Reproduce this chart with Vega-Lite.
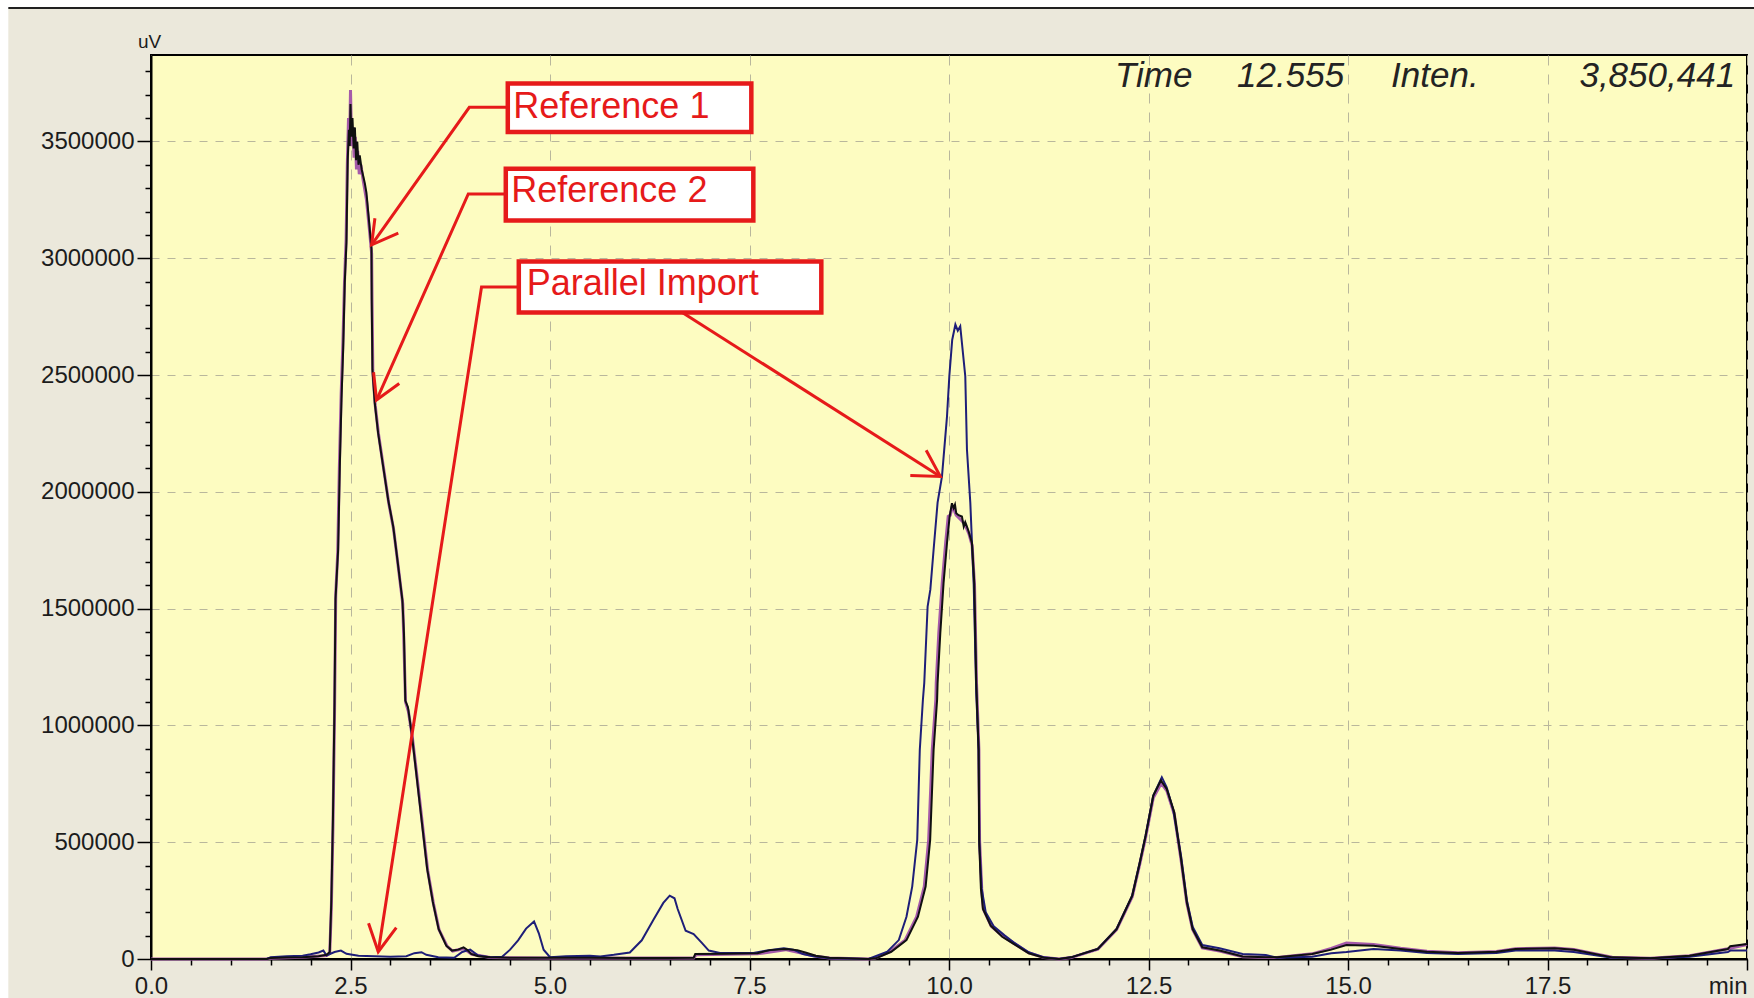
{
  "$schema": "https://vega.github.io/schema/vega-lite/v6.json",
  "width": 1596,
  "height": 904,
  "autosize": {"type": "none"},
  "padding": {"left": 151, "top": 55, "right": 7, "bottom": 39},
  "background": "#EBE8DB",
  "config": {
    "view": {"fill": "#FDFCC1", "stroke": "#000000", "strokeWidth": 2},
    "font": "Liberation Sans",
    "axis": {
      "labelFont": "Liberation Sans",
      "labelColor": "#1c1c1c",
      "domainColor": "#000000",
      "tickColor": "#000000",
      "titleFont": "Liberation Sans",
      "titleColor": "#1c1c1c"
    }
  },
  "resolve": {"axis": {"x": "independent", "y": "independent"}},
  "datasets": {
    "traces": [
      {"s": "Reference 1", "t": 0, "v": 0}, {"s": "Reference 1", "t": 1.45, "v": 0}, {"s": "Reference 1", "t": 1.5, "v": 4000},
      {"s": "Reference 1", "t": 1.7, "v": 6000}, {"s": "Reference 1", "t": 1.9, "v": 8000}, {"s": "Reference 1", "t": 2.0, "v": 10000},
      {"s": "Reference 1", "t": 2.1, "v": 12000}, {"s": "Reference 1", "t": 2.2, "v": 18000}, {"s": "Reference 1", "t": 2.24, "v": 30000},
      {"s": "Reference 1", "t": 2.26, "v": 250000}, {"s": "Reference 1", "t": 2.28, "v": 600000}, {"s": "Reference 1", "t": 2.3, "v": 1100000},
      {"s": "Reference 1", "t": 2.312, "v": 1540000}, {"s": "Reference 1", "t": 2.345, "v": 1752000}, {"s": "Reference 1", "t": 2.366, "v": 2109000},
      {"s": "Reference 1", "t": 2.387, "v": 2395000}, {"s": "Reference 1", "t": 2.408, "v": 2609000}, {"s": "Reference 1", "t": 2.428, "v": 2895000},
      {"s": "Reference 1", "t": 2.449, "v": 3066000}, {"s": "Reference 1", "t": 2.465, "v": 3420000}, {"s": "Reference 1", "t": 2.48, "v": 3550000},
      {"s": "Reference 1", "t": 2.49, "v": 3480000}, {"s": "Reference 1", "t": 2.5, "v": 3660000}, {"s": "Reference 1", "t": 2.51, "v": 3520000},
      {"s": "Reference 1", "t": 2.525, "v": 3600000}, {"s": "Reference 1", "t": 2.54, "v": 3470000}, {"s": "Reference 1", "t": 2.555, "v": 3560000},
      {"s": "Reference 1", "t": 2.57, "v": 3420000}, {"s": "Reference 1", "t": 2.585, "v": 3500000}, {"s": "Reference 1", "t": 2.6, "v": 3400000},
      {"s": "Reference 1", "t": 2.616, "v": 3440000}, {"s": "Reference 1", "t": 2.64, "v": 3380000}, {"s": "Reference 1", "t": 2.659, "v": 3352000},
      {"s": "Reference 1", "t": 2.68, "v": 3320000}, {"s": "Reference 1", "t": 2.7, "v": 3280000}, {"s": "Reference 1", "t": 2.734, "v": 3152000},
      {"s": "Reference 1", "t": 2.763, "v": 3040000}, {"s": "Reference 1", "t": 2.766, "v": 2823000}, {"s": "Reference 1", "t": 2.775, "v": 2523000},
      {"s": "Reference 1", "t": 2.804, "v": 2381000}, {"s": "Reference 1", "t": 2.846, "v": 2252000}, {"s": "Reference 1", "t": 2.909, "v": 2109000},
      {"s": "Reference 1", "t": 2.972, "v": 1966000}, {"s": "Reference 1", "t": 3.035, "v": 1852000}, {"s": "Reference 1", "t": 3.072, "v": 1752000},
      {"s": "Reference 1", "t": 3.15, "v": 1537000}, {"s": "Reference 1", "t": 3.17, "v": 1394000}, {"s": "Reference 1", "t": 3.187, "v": 1106000},
      {"s": "Reference 1", "t": 3.22, "v": 1078000}, {"s": "Reference 1", "t": 3.268, "v": 963000}, {"s": "Reference 1", "t": 3.316, "v": 819000},
      {"s": "Reference 1", "t": 3.364, "v": 675000}, {"s": "Reference 1", "t": 3.412, "v": 532000}, {"s": "Reference 1", "t": 3.46, "v": 388000},
      {"s": "Reference 1", "t": 3.532, "v": 244000}, {"s": "Reference 1", "t": 3.604, "v": 129000}, {"s": "Reference 1", "t": 3.7, "v": 57000},
      {"s": "Reference 1", "t": 3.772, "v": 36000}, {"s": "Reference 1", "t": 3.85, "v": 40000}, {"s": "Reference 1", "t": 3.916, "v": 50000},
      {"s": "Reference 1", "t": 3.96, "v": 40000}, {"s": "Reference 1", "t": 4.012, "v": 22000}, {"s": "Reference 1", "t": 4.1, "v": 12000},
      {"s": "Reference 1", "t": 4.25, "v": 7000}, {"s": "Reference 1", "t": 4.5, "v": 5000}, {"s": "Reference 1", "t": 5.0, "v": 5000},
      {"s": "Reference 1", "t": 5.5, "v": 5000}, {"s": "Reference 1", "t": 6.0, "v": 4000}, {"s": "Reference 1", "t": 6.5, "v": 4000},
      {"s": "Reference 1", "t": 6.8, "v": 5000}, {"s": "Reference 1", "t": 6.82, "v": 21000}, {"s": "Reference 1", "t": 7.2, "v": 22000},
      {"s": "Reference 1", "t": 7.6, "v": 25000}, {"s": "Reference 1", "t": 7.75, "v": 38000}, {"s": "Reference 1", "t": 7.95, "v": 43000},
      {"s": "Reference 1", "t": 8.1, "v": 38000}, {"s": "Reference 1", "t": 8.2, "v": 28000}, {"s": "Reference 1", "t": 8.33, "v": 14000},
      {"s": "Reference 1", "t": 8.5, "v": 5000}, {"s": "Reference 1", "t": 8.99, "v": 0}, {"s": "Reference 1", "t": 9.083, "v": 3000},
      {"s": "Reference 1", "t": 9.276, "v": 31000}, {"s": "Reference 1", "t": 9.467, "v": 81000}, {"s": "Reference 1", "t": 9.611, "v": 181000},
      {"s": "Reference 1", "t": 9.707, "v": 310000}, {"s": "Reference 1", "t": 9.764, "v": 510000}, {"s": "Reference 1", "t": 9.807, "v": 895000},
      {"s": "Reference 1", "t": 9.851, "v": 1110000}, {"s": "Reference 1", "t": 9.857, "v": 1181000}, {"s": "Reference 1", "t": 9.891, "v": 1395000},
      {"s": "Reference 1", "t": 9.932, "v": 1610000}, {"s": "Reference 1", "t": 9.975, "v": 1781000}, {"s": "Reference 1", "t": 10.008, "v": 1895000},
      {"s": "Reference 1", "t": 10.037, "v": 1951000}, {"s": "Reference 1", "t": 10.058, "v": 1930000}, {"s": "Reference 1", "t": 10.075, "v": 1945000},
      {"s": "Reference 1", "t": 10.091, "v": 1908000}, {"s": "Reference 1", "t": 10.12, "v": 1900000}, {"s": "Reference 1", "t": 10.162, "v": 1894000},
      {"s": "Reference 1", "t": 10.185, "v": 1851000}, {"s": "Reference 1", "t": 10.204, "v": 1870000}, {"s": "Reference 1", "t": 10.225, "v": 1851000},
      {"s": "Reference 1", "t": 10.246, "v": 1830000}, {"s": "Reference 1", "t": 10.288, "v": 1780000}, {"s": "Reference 1", "t": 10.317, "v": 1609000},
      {"s": "Reference 1", "t": 10.342, "v": 1180000}, {"s": "Reference 1", "t": 10.371, "v": 895000}, {"s": "Reference 1", "t": 10.379, "v": 500000},
      {"s": "Reference 1", "t": 10.4, "v": 300000}, {"s": "Reference 1", "t": 10.426, "v": 214000}, {"s": "Reference 1", "t": 10.523, "v": 143000},
      {"s": "Reference 1", "t": 10.667, "v": 95000}, {"s": "Reference 1", "t": 10.81, "v": 65000}, {"s": "Reference 1", "t": 11.0, "v": 24000},
      {"s": "Reference 1", "t": 11.19, "v": 5000}, {"s": "Reference 1", "t": 11.38, "v": 0}, {"s": "Reference 1", "t": 11.53, "v": 7000},
      {"s": "Reference 1", "t": 11.865, "v": 43000}, {"s": "Reference 1", "t": 12.1, "v": 128000}, {"s": "Reference 1", "t": 12.296, "v": 271000},
      {"s": "Reference 1", "t": 12.392, "v": 414000}, {"s": "Reference 1", "t": 12.464, "v": 528000}, {"s": "Reference 1", "t": 12.56, "v": 700000},
      {"s": "Reference 1", "t": 12.655, "v": 764000}, {"s": "Reference 1", "t": 12.728, "v": 728000}, {"s": "Reference 1", "t": 12.823, "v": 628000},
      {"s": "Reference 1", "t": 12.908, "v": 428000}, {"s": "Reference 1", "t": 12.98, "v": 243000}, {"s": "Reference 1", "t": 13.053, "v": 128000},
      {"s": "Reference 1", "t": 13.174, "v": 50000}, {"s": "Reference 1", "t": 13.39, "v": 36000}, {"s": "Reference 1", "t": 13.68, "v": 11000},
      {"s": "Reference 1", "t": 13.97, "v": 7000}, {"s": "Reference 1", "t": 14.11, "v": 7000}, {"s": "Reference 1", "t": 14.55, "v": 21000},
      {"s": "Reference 1", "t": 14.79, "v": 40000}, {"s": "Reference 1", "t": 14.98, "v": 60000}, {"s": "Reference 1", "t": 15.32, "v": 57000},
      {"s": "Reference 1", "t": 15.66, "v": 43000}, {"s": "Reference 1", "t": 15.99, "v": 31000}, {"s": "Reference 1", "t": 16.38, "v": 26000},
      {"s": "Reference 1", "t": 16.86, "v": 31000}, {"s": "Reference 1", "t": 17.1, "v": 43000}, {"s": "Reference 1", "t": 17.59, "v": 46000},
      {"s": "Reference 1", "t": 17.83, "v": 40000}, {"s": "Reference 1", "t": 18.31, "v": 7000}, {"s": "Reference 1", "t": 18.79, "v": 3000},
      {"s": "Reference 1", "t": 19.28, "v": 14000}, {"s": "Reference 1", "t": 19.76, "v": 43000}, {"s": "Reference 1", "t": 19.79, "v": 55000},
      {"s": "Reference 1", "t": 20.0, "v": 64000},

      {"s": "Reference 2", "t": 0, "v": 0}, {"s": "Reference 2", "t": 1.45, "v": 0}, {"s": "Reference 2", "t": 1.5, "v": 3000},
      {"s": "Reference 2", "t": 1.9, "v": 7000}, {"s": "Reference 2", "t": 2.2, "v": 15000}, {"s": "Reference 2", "t": 2.24, "v": 25000},
      {"s": "Reference 2", "t": 2.26, "v": 220000}, {"s": "Reference 2", "t": 2.28, "v": 560000}, {"s": "Reference 2", "t": 2.3, "v": 1050000},
      {"s": "Reference 2", "t": 2.315, "v": 1560000}, {"s": "Reference 2", "t": 2.34, "v": 1740000}, {"s": "Reference 2", "t": 2.36, "v": 2100000},
      {"s": "Reference 2", "t": 2.383, "v": 2420000}, {"s": "Reference 2", "t": 2.405, "v": 2640000}, {"s": "Reference 2", "t": 2.425, "v": 2900000},
      {"s": "Reference 2", "t": 2.445, "v": 3080000}, {"s": "Reference 2", "t": 2.46, "v": 3400000}, {"s": "Reference 2", "t": 2.475, "v": 3600000},
      {"s": "Reference 2", "t": 2.49, "v": 3520000}, {"s": "Reference 2", "t": 2.5, "v": 3720000}, {"s": "Reference 2", "t": 2.515, "v": 3480000},
      {"s": "Reference 2", "t": 2.53, "v": 3560000}, {"s": "Reference 2", "t": 2.545, "v": 3430000}, {"s": "Reference 2", "t": 2.56, "v": 3520000},
      {"s": "Reference 2", "t": 2.575, "v": 3380000}, {"s": "Reference 2", "t": 2.59, "v": 3460000}, {"s": "Reference 2", "t": 2.61, "v": 3360000},
      {"s": "Reference 2", "t": 2.63, "v": 3400000}, {"s": "Reference 2", "t": 2.66, "v": 3330000}, {"s": "Reference 2", "t": 2.7, "v": 3250000},
      {"s": "Reference 2", "t": 2.735, "v": 3130000}, {"s": "Reference 2", "t": 2.765, "v": 3020000}, {"s": "Reference 2", "t": 2.77, "v": 2820000},
      {"s": "Reference 2", "t": 2.78, "v": 2510000}, {"s": "Reference 2", "t": 2.81, "v": 2370000}, {"s": "Reference 2", "t": 2.85, "v": 2250000},
      {"s": "Reference 2", "t": 2.915, "v": 2100000}, {"s": "Reference 2", "t": 2.98, "v": 1950000}, {"s": "Reference 2", "t": 3.04, "v": 1840000},
      {"s": "Reference 2", "t": 3.08, "v": 1730000}, {"s": "Reference 2", "t": 3.155, "v": 1520000}, {"s": "Reference 2", "t": 3.19, "v": 1100000},
      {"s": "Reference 2", "t": 3.225, "v": 1060000}, {"s": "Reference 2", "t": 3.275, "v": 950000}, {"s": "Reference 2", "t": 3.325, "v": 805000},
      {"s": "Reference 2", "t": 3.372, "v": 665000}, {"s": "Reference 2", "t": 3.42, "v": 520000}, {"s": "Reference 2", "t": 3.468, "v": 378000},
      {"s": "Reference 2", "t": 3.54, "v": 236000}, {"s": "Reference 2", "t": 3.61, "v": 125000}, {"s": "Reference 2", "t": 3.71, "v": 55000},
      {"s": "Reference 2", "t": 3.78, "v": 34000}, {"s": "Reference 2", "t": 3.92, "v": 45000}, {"s": "Reference 2", "t": 4.02, "v": 20000},
      {"s": "Reference 2", "t": 4.25, "v": 6000}, {"s": "Reference 2", "t": 5.0, "v": 4000}, {"s": "Reference 2", "t": 6.8, "v": 4000},
      {"s": "Reference 2", "t": 6.83, "v": 18000}, {"s": "Reference 2", "t": 7.6, "v": 22000}, {"s": "Reference 2", "t": 7.95, "v": 40000},
      {"s": "Reference 2", "t": 8.33, "v": 12000}, {"s": "Reference 2", "t": 8.5, "v": 4000}, {"s": "Reference 2", "t": 8.99, "v": 0},
      {"s": "Reference 2", "t": 9.07, "v": 3000}, {"s": "Reference 2", "t": 9.26, "v": 31000}, {"s": "Reference 2", "t": 9.45, "v": 81000},
      {"s": "Reference 2", "t": 9.595, "v": 181000}, {"s": "Reference 2", "t": 9.69, "v": 310000}, {"s": "Reference 2", "t": 9.745, "v": 510000},
      {"s": "Reference 2", "t": 9.79, "v": 895000}, {"s": "Reference 2", "t": 9.835, "v": 1110000}, {"s": "Reference 2", "t": 9.84, "v": 1181000},
      {"s": "Reference 2", "t": 9.872, "v": 1395000}, {"s": "Reference 2", "t": 9.915, "v": 1610000}, {"s": "Reference 2", "t": 9.958, "v": 1781000},
      {"s": "Reference 2", "t": 9.99, "v": 1895000}, {"s": "Reference 2", "t": 10.016, "v": 1900000}, {"s": "Reference 2", "t": 10.04, "v": 1935000},
      {"s": "Reference 2", "t": 10.06, "v": 1925000}, {"s": "Reference 2", "t": 10.09, "v": 1900000}, {"s": "Reference 2", "t": 10.15, "v": 1880000},
      {"s": "Reference 2", "t": 10.2, "v": 1860000}, {"s": "Reference 2", "t": 10.25, "v": 1820000}, {"s": "Reference 2", "t": 10.29, "v": 1770000},
      {"s": "Reference 2", "t": 10.32, "v": 1600000}, {"s": "Reference 2", "t": 10.345, "v": 1180000}, {"s": "Reference 2", "t": 10.375, "v": 895000},
      {"s": "Reference 2", "t": 10.383, "v": 510000}, {"s": "Reference 2", "t": 10.41, "v": 300000}, {"s": "Reference 2", "t": 10.43, "v": 214000},
      {"s": "Reference 2", "t": 10.53, "v": 140000}, {"s": "Reference 2", "t": 10.67, "v": 98000}, {"s": "Reference 2", "t": 10.81, "v": 68000},
      {"s": "Reference 2", "t": 11.0, "v": 26000}, {"s": "Reference 2", "t": 11.19, "v": 6000}, {"s": "Reference 2", "t": 11.38, "v": 0},
      {"s": "Reference 2", "t": 11.53, "v": 6000}, {"s": "Reference 2", "t": 11.865, "v": 42000}, {"s": "Reference 2", "t": 12.1, "v": 126000},
      {"s": "Reference 2", "t": 12.296, "v": 266000}, {"s": "Reference 2", "t": 12.392, "v": 408000}, {"s": "Reference 2", "t": 12.464, "v": 520000},
      {"s": "Reference 2", "t": 12.56, "v": 690000}, {"s": "Reference 2", "t": 12.66, "v": 752000}, {"s": "Reference 2", "t": 12.73, "v": 720000},
      {"s": "Reference 2", "t": 12.823, "v": 620000}, {"s": "Reference 2", "t": 12.908, "v": 424000}, {"s": "Reference 2", "t": 12.98, "v": 240000},
      {"s": "Reference 2", "t": 13.053, "v": 126000}, {"s": "Reference 2", "t": 13.174, "v": 48000}, {"s": "Reference 2", "t": 13.39, "v": 34000},
      {"s": "Reference 2", "t": 13.68, "v": 10000}, {"s": "Reference 2", "t": 13.97, "v": 6000}, {"s": "Reference 2", "t": 14.11, "v": 6000},
      {"s": "Reference 2", "t": 14.55, "v": 22000}, {"s": "Reference 2", "t": 14.79, "v": 45000}, {"s": "Reference 2", "t": 14.98, "v": 68000},
      {"s": "Reference 2", "t": 15.32, "v": 62000}, {"s": "Reference 2", "t": 15.66, "v": 46000}, {"s": "Reference 2", "t": 15.99, "v": 33000},
      {"s": "Reference 2", "t": 16.38, "v": 27000}, {"s": "Reference 2", "t": 16.86, "v": 32000}, {"s": "Reference 2", "t": 17.1, "v": 44000},
      {"s": "Reference 2", "t": 17.59, "v": 47000}, {"s": "Reference 2", "t": 17.83, "v": 41000}, {"s": "Reference 2", "t": 18.31, "v": 8000},
      {"s": "Reference 2", "t": 18.79, "v": 3000}, {"s": "Reference 2", "t": 19.28, "v": 14000}, {"s": "Reference 2", "t": 19.76, "v": 44000},
      {"s": "Reference 2", "t": 20.0, "v": 62000},

      {"s": "Parallel Import", "t": 0, "v": 0}, {"s": "Parallel Import", "t": 1.45, "v": 0}, {"s": "Parallel Import", "t": 1.5, "v": 8000},
      {"s": "Parallel Import", "t": 1.7, "v": 12000}, {"s": "Parallel Import", "t": 1.9, "v": 14000}, {"s": "Parallel Import", "t": 2.0, "v": 20000},
      {"s": "Parallel Import", "t": 2.1, "v": 28000}, {"s": "Parallel Import", "t": 2.16, "v": 36000}, {"s": "Parallel Import", "t": 2.2, "v": 15000},
      {"s": "Parallel Import", "t": 2.3, "v": 30000}, {"s": "Parallel Import", "t": 2.38, "v": 36000}, {"s": "Parallel Import", "t": 2.45, "v": 22000},
      {"s": "Parallel Import", "t": 2.6, "v": 14000}, {"s": "Parallel Import", "t": 2.8, "v": 12000}, {"s": "Parallel Import", "t": 3.0, "v": 10000},
      {"s": "Parallel Import", "t": 3.2, "v": 12000}, {"s": "Parallel Import", "t": 3.3, "v": 25000}, {"s": "Parallel Import", "t": 3.39, "v": 29000},
      {"s": "Parallel Import", "t": 3.45, "v": 18000}, {"s": "Parallel Import", "t": 3.6, "v": 8000}, {"s": "Parallel Import", "t": 3.8, "v": 5000},
      {"s": "Parallel Import", "t": 3.9, "v": 30000}, {"s": "Parallel Import", "t": 4.0, "v": 40000}, {"s": "Parallel Import", "t": 4.1, "v": 15000},
      {"s": "Parallel Import", "t": 4.25, "v": 8000}, {"s": "Parallel Import", "t": 4.4, "v": 10000}, {"s": "Parallel Import", "t": 4.5, "v": 40000},
      {"s": "Parallel Import", "t": 4.6, "v": 80000}, {"s": "Parallel Import", "t": 4.7, "v": 130000}, {"s": "Parallel Import", "t": 4.8, "v": 161000},
      {"s": "Parallel Import", "t": 4.86, "v": 110000}, {"s": "Parallel Import", "t": 4.92, "v": 40000}, {"s": "Parallel Import", "t": 5.0, "v": 8000},
      {"s": "Parallel Import", "t": 5.2, "v": 12000}, {"s": "Parallel Import", "t": 5.5, "v": 14000}, {"s": "Parallel Import", "t": 5.63, "v": 11000},
      {"s": "Parallel Import", "t": 5.8, "v": 18000}, {"s": "Parallel Import", "t": 6.0, "v": 28000}, {"s": "Parallel Import", "t": 6.15, "v": 80000},
      {"s": "Parallel Import", "t": 6.3, "v": 170000}, {"s": "Parallel Import", "t": 6.42, "v": 240000}, {"s": "Parallel Import", "t": 6.5, "v": 271000},
      {"s": "Parallel Import", "t": 6.56, "v": 260000}, {"s": "Parallel Import", "t": 6.6, "v": 214000}, {"s": "Parallel Import", "t": 6.7, "v": 121000},
      {"s": "Parallel Import", "t": 6.8, "v": 107000}, {"s": "Parallel Import", "t": 6.9, "v": 70000}, {"s": "Parallel Import", "t": 6.99, "v": 36000},
      {"s": "Parallel Import", "t": 7.13, "v": 26000}, {"s": "Parallel Import", "t": 7.55, "v": 26000}, {"s": "Parallel Import", "t": 7.7, "v": 35000},
      {"s": "Parallel Import", "t": 7.93, "v": 46000}, {"s": "Parallel Import", "t": 8.05, "v": 40000}, {"s": "Parallel Import", "t": 8.17, "v": 21000},
      {"s": "Parallel Import", "t": 8.3, "v": 12000}, {"s": "Parallel Import", "t": 8.5, "v": 3000}, {"s": "Parallel Import", "t": 8.99, "v": 0},
      {"s": "Parallel Import", "t": 9.227, "v": 31000}, {"s": "Parallel Import", "t": 9.371, "v": 81000}, {"s": "Parallel Import", "t": 9.467, "v": 181000},
      {"s": "Parallel Import", "t": 9.539, "v": 310000}, {"s": "Parallel Import", "t": 9.602, "v": 510000}, {"s": "Parallel Import", "t": 9.634, "v": 895000},
      {"s": "Parallel Import", "t": 9.673, "v": 1110000}, {"s": "Parallel Import", "t": 9.69, "v": 1182000}, {"s": "Parallel Import", "t": 9.732, "v": 1509000},
      {"s": "Parallel Import", "t": 9.766, "v": 1581000}, {"s": "Parallel Import", "t": 9.807, "v": 1752000}, {"s": "Parallel Import", "t": 9.857, "v": 1954000},
      {"s": "Parallel Import", "t": 9.912, "v": 2066000}, {"s": "Parallel Import", "t": 9.975, "v": 2323000}, {"s": "Parallel Import", "t": 10.004, "v": 2495000},
      {"s": "Parallel Import", "t": 10.04, "v": 2650000}, {"s": "Parallel Import", "t": 10.08, "v": 2716000}, {"s": "Parallel Import", "t": 10.11, "v": 2690000},
      {"s": "Parallel Import", "t": 10.141, "v": 2709000}, {"s": "Parallel Import", "t": 10.204, "v": 2495000}, {"s": "Parallel Import", "t": 10.225, "v": 2181000},
      {"s": "Parallel Import", "t": 10.267, "v": 1954000}, {"s": "Parallel Import", "t": 10.309, "v": 1610000}, {"s": "Parallel Import", "t": 10.342, "v": 1138000},
      {"s": "Parallel Import", "t": 10.371, "v": 895000}, {"s": "Parallel Import", "t": 10.38, "v": 500000}, {"s": "Parallel Import", "t": 10.41, "v": 300000},
      {"s": "Parallel Import", "t": 10.46, "v": 200000}, {"s": "Parallel Import", "t": 10.56, "v": 140000}, {"s": "Parallel Import", "t": 10.7, "v": 100000},
      {"s": "Parallel Import", "t": 10.81, "v": 71000}, {"s": "Parallel Import", "t": 11.0, "v": 28600}, {"s": "Parallel Import", "t": 11.19, "v": 7000},
      {"s": "Parallel Import", "t": 11.38, "v": 0}, {"s": "Parallel Import", "t": 11.53, "v": 7000}, {"s": "Parallel Import", "t": 11.865, "v": 43000},
      {"s": "Parallel Import", "t": 12.1, "v": 128500}, {"s": "Parallel Import", "t": 12.296, "v": 271000}, {"s": "Parallel Import", "t": 12.392, "v": 414000},
      {"s": "Parallel Import", "t": 12.464, "v": 528000}, {"s": "Parallel Import", "t": 12.56, "v": 700000}, {"s": "Parallel Import", "t": 12.667, "v": 778000},
      {"s": "Parallel Import", "t": 12.728, "v": 735000}, {"s": "Parallel Import", "t": 12.81, "v": 638000}, {"s": "Parallel Import", "t": 12.908, "v": 440000},
      {"s": "Parallel Import", "t": 12.98, "v": 252000}, {"s": "Parallel Import", "t": 13.053, "v": 138000}, {"s": "Parallel Import", "t": 13.174, "v": 60000},
      {"s": "Parallel Import", "t": 13.39, "v": 45800}, {"s": "Parallel Import", "t": 13.68, "v": 21400}, {"s": "Parallel Import", "t": 13.97, "v": 17000},
      {"s": "Parallel Import", "t": 14.11, "v": 5000}, {"s": "Parallel Import", "t": 14.55, "v": 10000}, {"s": "Parallel Import", "t": 14.79, "v": 25000},
      {"s": "Parallel Import", "t": 14.98, "v": 30000}, {"s": "Parallel Import", "t": 15.32, "v": 43000}, {"s": "Parallel Import", "t": 15.66, "v": 36000},
      {"s": "Parallel Import", "t": 15.99, "v": 26000}, {"s": "Parallel Import", "t": 16.38, "v": 21000}, {"s": "Parallel Import", "t": 16.86, "v": 26000},
      {"s": "Parallel Import", "t": 17.1, "v": 36000}, {"s": "Parallel Import", "t": 17.59, "v": 36000}, {"s": "Parallel Import", "t": 17.83, "v": 30000},
      {"s": "Parallel Import", "t": 18.31, "v": 5000}, {"s": "Parallel Import", "t": 18.79, "v": 3000}, {"s": "Parallel Import", "t": 19.28, "v": 10000},
      {"s": "Parallel Import", "t": 19.76, "v": 30000}, {"s": "Parallel Import", "t": 19.79, "v": 36000}, {"s": "Parallel Import", "t": 20.0, "v": 36000}
    ],
    "arrows": [
      {"p": "r1", "i": 0, "t": 4.471, "v": 3646000}, {"p": "r1", "i": 1, "t": 3.989, "v": 3646000}, {"p": "r1", "i": 2, "t": 2.764, "v": 3057000},
      {"p": "r1h", "i": 0, "t": 3.099, "v": 3107000}, {"p": "r1h", "i": 1, "t": 2.764, "v": 3057000}, {"p": "r1h", "i": 2, "t": 2.806, "v": 3171000},
      {"p": "r2", "i": 0, "t": 4.446, "v": 3275000}, {"p": "r2", "i": 1, "t": 3.976, "v": 3275000}, {"p": "r2", "i": 2, "t": 2.826, "v": 2393000},
      {"p": "r2h", "i": 0, "t": 3.111, "v": 2464000}, {"p": "r2h", "i": 1, "t": 2.826, "v": 2393000}, {"p": "r2h", "i": 2, "t": 2.789, "v": 2512000},
      {"p": "pi", "i": 0, "t": 4.609, "v": 2877000}, {"p": "pi", "i": 1, "t": 4.142, "v": 2877000}, {"p": "pi", "i": 2, "t": 2.848, "v": 31000},
      {"p": "pih", "i": 0, "t": 3.074, "v": 134000}, {"p": "pih", "i": 1, "t": 2.848, "v": 31000}, {"p": "pih", "i": 2, "t": 2.726, "v": 153000},
      {"p": "pj", "i": 0, "t": 6.633, "v": 2773000}, {"p": "pj", "i": 1, "t": 9.891, "v": 2066000},
      {"p": "pjh", "i": 0, "t": 9.515, "v": 2070000}, {"p": "pjh", "i": 1, "t": 9.891, "v": 2066000}, {"p": "pjh", "i": 2, "t": 9.714, "v": 2178000}
    ],
    "boxes": [
      {"label": "Reference 1", "t": 4.471, "t2": 7.523, "v": 3748000, "v2": 3540000, "tl": 4.54, "vb": 3599000},
      {"label": "Reference 2", "t": 4.446, "t2": 7.548, "v": 3383000, "v2": 3161000, "tl": 4.515, "vb": 3240000},
      {"label": "Parallel Import", "t": 4.609, "t2": 8.4, "v": 2986000, "v2": 2768000, "tl": 4.709, "vb": 2843000}
    ],
    "readout": [
      {"label": "Time", "t": 12.08, "v": 3733000},
      {"label": "12.555", "t": 13.61, "v": 3733000},
      {"label": "Inten.", "t": 15.54, "v": 3733000},
      {"label": "3,850,441", "t": 17.9, "v": 3733000}
    ]
  },
  "layer": [
    {
      "data": {"values": [{}]},
      "mark": {"type": "rect", "fill": "#FFFFFF"},
      "encoding": {
        "x": {"datum": -2.5, "type": "quantitative", "scale": {"domain": [0, 20], "nice": false, "zero": false}, "axis": null},
        "x2": {"datum": 20.5},
        "y": {"datum": 4071000, "type": "quantitative", "scale": {"domain": [0, 3870000], "nice": false}, "axis": null},
        "y2": {"datum": 4700000}
      }
    },
    {
      "data": {"values": [{}]},
      "mark": {"type": "rect", "fill": "#FFFFFF"},
      "encoding": {
        "x": {"datum": -2.5, "type": "quantitative", "scale": {"domain": [0, 20], "nice": false, "zero": false}, "axis": null},
        "x2": {"datum": -1.788},
        "y": {"datum": -400000, "type": "quantitative", "scale": {"domain": [0, 3870000], "nice": false}, "axis": null},
        "y2": {"datum": 4071000}
      }
    },
    {
      "data": {"values": [{}]},
      "mark": {"type": "rule", "stroke": "#202020", "strokeWidth": 2},
      "encoding": {
        "x": {"datum": -1.788, "type": "quantitative", "scale": {"domain": [0, 20], "nice": false, "zero": false}, "axis": null},
        "x2": {"datum": 20.2},
        "y": {"datum": 4071000, "type": "quantitative", "scale": {"domain": [0, 3870000], "nice": false}, "axis": null}
      }
    },
    {
      "data": {"name": "traces"},
      "transform": [{"filter": "datum.s === 'Reference 2'"}],
      "mark": {"type": "line", "stroke": "#A55AA9", "strokeWidth": 3, "strokeJoin": "miter"},
      "encoding": {
        "x": {"field": "t", "type": "quantitative", "scale": {"domain": [0, 20], "nice": false, "zero": false}, "axis": null},
        "y": {"field": "v", "type": "quantitative", "scale": {"domain": [0, 3870000], "nice": false}, "axis": null},
        "order": {"field": "t", "type": "quantitative"}
      }
    },
    {
      "data": {"name": "traces"},
      "transform": [{"filter": "datum.s === 'Parallel Import'"}],
      "mark": {"type": "line", "stroke": "#1E1E78", "strokeWidth": 2, "strokeJoin": "miter"},
      "encoding": {
        "x": {"field": "t", "type": "quantitative", "scale": {"domain": [0, 20], "nice": false, "zero": false}, "axis": null},
        "y": {"field": "v", "type": "quantitative", "scale": {"domain": [0, 3870000], "nice": false}, "axis": null},
        "order": {"field": "t", "type": "quantitative"}
      }
    },
    {
      "data": {"name": "traces"},
      "transform": [{"filter": "datum.s === 'Reference 1'"}],
      "mark": {"type": "line", "stroke": "#101010", "strokeWidth": 2, "strokeJoin": "miter"},
      "encoding": {
        "x": {
          "field": "t", "type": "quantitative",
          "scale": {"domain": [0, 20], "nice": false, "zero": false},
          "axis": {
            "orient": "bottom",
            "values": [0, 2.5, 5, 7.5, 10, 12.5, 15, 17.5, 20],
            "labelExpr": "datum.value == 20 ? 'min' : format(datum.value, '.1f')",
            "labelFlush": false,
            "labelOverlap": false,
            "labelAlign": {"condition": {"test": "datum.value == 20", "value": "right"}, "value": "center"},
            "labelFontSize": 24,
            "labelPadding": 4,
            "tickSize": 11,
            "tickWidth": 1.5,
            "domainWidth": 2,
            "grid": true,
            "gridColor": "#B9B79C",
            "gridDash": [10, 9],
            "gridWidth": 1,
            "title": null
          }
        },
        "y": {
          "field": "v", "type": "quantitative",
          "scale": {"domain": [0, 3870000], "nice": false},
          "axis": {
            "orient": "left",
            "values": [0, 500000, 1000000, 1500000, 2000000, 2500000, 3000000, 3500000],
            "format": "d",
            "labelFontSize": 24,
            "labelPadding": 3,
            "labelOverlap": false,
            "tickSize": 14,
            "tickWidth": 1.5,
            "domainWidth": 2,
            "grid": true,
            "gridColor": "#B9B79C",
            "gridDash": [8, 8],
            "gridWidth": 1,
            "title": "uV",
            "titleAngle": 0,
            "titleX": -2,
            "titleY": -8,
            "titleAlign": "center",
            "titleBaseline": "alphabetic",
            "titleFontSize": 19,
            "titleFontWeight": "normal"
          }
        },
        "order": {"field": "t", "type": "quantitative"}
      }
    },
    {
      "data": {"name": "arrows"},
      "mark": {"type": "line", "stroke": "#E61A1A", "strokeWidth": 3, "strokeJoin": "miter", "strokeCap": "butt"},
      "encoding": {
        "x": {"field": "t", "type": "quantitative", "scale": {"domain": [0, 20], "nice": false, "zero": false}, "axis": null},
        "y": {"field": "v", "type": "quantitative", "scale": {"domain": [0, 3870000], "nice": false}, "axis": null},
        "detail": {"field": "p"},
        "order": {"field": "i", "type": "quantitative"}
      }
    },
    {
      "data": {"name": "boxes"},
      "mark": {"type": "rect", "fill": "#FFFFFF", "stroke": "#E61A1A", "strokeWidth": 4.5},
      "encoding": {
        "x": {
          "field": "t", "type": "quantitative",
          "scale": {"domain": [0, 20], "nice": false, "zero": false},
          "axis": {
            "orient": "bottom",
            "values": [0.5, 1, 1.5, 2, 3, 3.5, 4, 4.5, 5.5, 6, 6.5, 7, 8, 8.5, 9, 9.5, 10.5, 11, 11.5, 12, 13, 13.5, 14, 14.5, 15.5, 16, 16.5, 17, 18, 18.5, 19, 19.5],
            "labels": false,
            "domain": false,
            "grid": false,
            "tickSize": 6,
            "tickWidth": 1.5,
            "title": null
          }
        },
        "x2": {"field": "t2"},
        "y": {
          "field": "v", "type": "quantitative",
          "scale": {"domain": [0, 3870000], "nice": false},
          "axis": {
            "orient": "left",
            "values": [100000, 200000, 300000, 400000, 600000, 700000, 800000, 900000, 1100000, 1200000, 1300000, 1400000, 1600000, 1700000, 1800000, 1900000, 2100000, 2200000, 2300000, 2400000, 2600000, 2700000, 2800000, 2900000, 3100000, 3200000, 3300000, 3400000, 3600000, 3700000, 3800000],
            "labels": false,
            "domain": false,
            "grid": false,
            "tickSize": 6,
            "tickWidth": 1.5,
            "title": null
          }
        },
        "y2": {"field": "v2"}
      }
    },
    {
      "data": {"name": "boxes"},
      "mark": {"type": "text", "align": "left", "baseline": "alphabetic", "font": "Liberation Sans", "fontSize": 36, "fill": "#E61A1A"},
      "encoding": {
        "x": {"field": "tl", "type": "quantitative", "scale": {"domain": [0, 20], "nice": false, "zero": false}, "axis": null},
        "y": {"field": "vb", "type": "quantitative", "scale": {"domain": [0, 3870000], "nice": false}, "axis": null},
        "text": {"field": "label"}
      }
    },
    {
      "data": {"name": "readout"},
      "mark": {"type": "text", "align": "left", "baseline": "alphabetic", "font": "Liberation Sans", "fontSize": 35, "fontStyle": "italic", "fill": "#232323"},
      "encoding": {
        "x": {"field": "t", "type": "quantitative", "scale": {"domain": [0, 20], "nice": false, "zero": false}, "axis": null},
        "y": {"field": "v", "type": "quantitative", "scale": {"domain": [0, 3870000], "nice": false}, "axis": null},
        "text": {"field": "label"}
      }
    }
  ]
}
